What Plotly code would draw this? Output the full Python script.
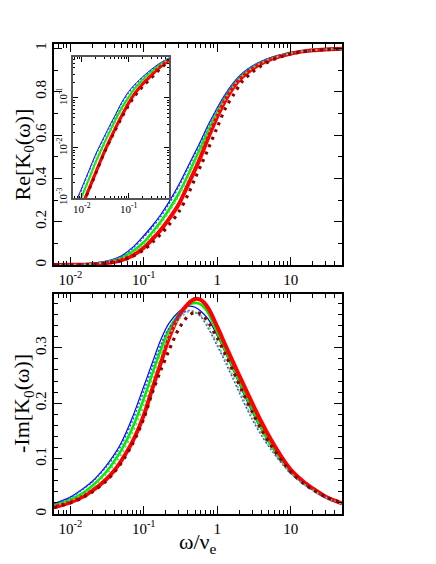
import math
import plotly.graph_objects as go

# ---------------- data ----------------
omega = [0.006, 0.01, 0.015, 0.02, 0.03, 0.04, 0.05, 0.07, 0.1, 0.13, 0.17, 0.22, 0.3, 0.4, 0.5,
         0.6, 0.75, 1.0, 1.3, 1.7, 2.2, 3.0, 4.0, 5.5, 7.5, 10, 15, 20, 30, 50]

re_blue = [0.0005, 0.0016, 0.004, 0.0077, 0.0168, 0.029, 0.043, 0.080, 0.135, 0.18, 0.232, 0.29, 0.37, 0.455, 0.52,
           0.575, 0.645, 0.725, 0.79, 0.845, 0.885, 0.918, 0.940, 0.958, 0.970, 0.979, 0.988, 0.992, 0.995, 0.998]
re_green = [0.00033, 0.00108, 0.0027, 0.0054, 0.0125, 0.022, 0.034, 0.062, 0.105, 0.15, 0.20, 0.255, 0.33, 0.415, 0.487,
            0.545, 0.618, 0.705, 0.775, 0.835, 0.877, 0.912, 0.935, 0.955, 0.968, 0.978, 0.987, 0.991, 0.995, 0.998]
re_red = [0.00021, 0.00068, 0.0017, 0.0033, 0.0083, 0.0148, 0.023, 0.043, 0.08, 0.118, 0.162, 0.212, 0.28, 0.37, 0.44,
          0.502, 0.585, 0.685, 0.762, 0.825, 0.868, 0.905, 0.93, 0.951, 0.965, 0.976, 0.986, 0.991, 0.995, 0.998]
re_blue_dot = [0.00048, 0.0015, 0.0038, 0.0073, 0.016, 0.0275, 0.041, 0.076, 0.128, 0.172, 0.224, 0.282, 0.362, 0.447, 0.513,
               0.568, 0.64, 0.722, 0.788, 0.843, 0.883, 0.917, 0.939, 0.957, 0.970, 0.979, 0.988, 0.992, 0.995, 0.998]
re_green_dot = [0.0003, 0.001, 0.0025, 0.005, 0.0115, 0.0205, 0.031, 0.057, 0.097, 0.14, 0.19, 0.245, 0.32, 0.405, 0.478,
                0.537, 0.61, 0.698, 0.77, 0.83, 0.873, 0.909, 0.933, 0.953, 0.967, 0.977, 0.987, 0.991, 0.995, 0.998]
re_maroon = [0.0002, 0.00065, 0.0016, 0.0031, 0.0078, 0.0138, 0.021, 0.039, 0.07, 0.103, 0.142, 0.185, 0.245, 0.325, 0.40,
             0.46, 0.535, 0.635, 0.725, 0.79, 0.848, 0.89, 0.92, 0.945, 0.962, 0.974, 0.985, 0.99, 0.994, 0.997]

im_blue = [0.0185, 0.0305, 0.046, 0.059, 0.085, 0.108, 0.130, 0.174, 0.230, 0.272, 0.314, 0.344, 0.365, 0.375, 0.373,
           0.366, 0.352, 0.322, 0.290, 0.256, 0.222, 0.184, 0.152, 0.121, 0.096, 0.076, 0.055, 0.044, 0.030, 0.019]
im_green = [0.0157, 0.026, 0.038, 0.051, 0.074, 0.096, 0.116, 0.155, 0.208, 0.252, 0.296, 0.333, 0.361, 0.377, 0.381,
            0.378, 0.363, 0.327, 0.294, 0.260, 0.227, 0.189, 0.155, 0.123, 0.097, 0.076, 0.056, 0.045, 0.031, 0.019]
im_red = [0.0122, 0.021, 0.0315, 0.042, 0.061, 0.079, 0.097, 0.13, 0.178, 0.225, 0.272, 0.317, 0.357, 0.379, 0.388,
          0.386, 0.372, 0.338, 0.304, 0.270, 0.238, 0.200, 0.166, 0.132, 0.103, 0.080, 0.058, 0.046, 0.031, 0.019]
im_blue_dot = [0.018, 0.0298, 0.045, 0.058, 0.083, 0.105, 0.126, 0.168, 0.222, 0.264, 0.305, 0.335, 0.357, 0.367, 0.364,
               0.356, 0.336, 0.304, 0.273, 0.240, 0.207, 0.171, 0.142, 0.115, 0.092, 0.073, 0.054, 0.043, 0.030, 0.019]
im_green_dot = [0.0148, 0.0245, 0.036, 0.048, 0.070, 0.090, 0.109, 0.146, 0.196, 0.242, 0.286, 0.322, 0.351, 0.365, 0.365,
                0.358, 0.340, 0.308, 0.277, 0.244, 0.211, 0.175, 0.145, 0.117, 0.093, 0.074, 0.054, 0.043, 0.030, 0.019]
im_maroon = [0.0118, 0.020, 0.030, 0.040, 0.058, 0.076, 0.093, 0.126, 0.172, 0.218, 0.259, 0.295, 0.334, 0.357, 0.364,
             0.361, 0.347, 0.318, 0.287, 0.254, 0.221, 0.184, 0.152, 0.122, 0.097, 0.076, 0.055, 0.044, 0.031, 0.020]

x_tickvals = [0.01, 0.1, 1, 10]
x_ticktext = ["10<sup>-2</sup>", "10<sup>-1</sup>", "1", "10"]
inset_x_tickvals = [0.01, 0.1]
inset_x_ticktext = ["10<sup>-2</sup>", "10<sup>-1</sup>"]
inset_y_tickvals = [0.001, 0.01, 0.1]
inset_y_ticktext = ["10<sup>-3</sup>", "10<sup>-2</sup>", "10<sup>-1</sup>"]

# ---------------- styles ----------------
FONT = "Liberation Serif"
styles = [
    ("blue", dict(color="#0000ff", width=1.2)),
    ("green", dict(color="#00ee00", width=2.6)),
    ("red", dict(color="#ff0000", width=4.0)),
    ("blue_dot", dict(color="#2a4bff", width=1.6, dash="2px,2px")),
    ("green_dot", dict(color="#5fd35f", width=2.0, dash="2px,3px")),
    ("maroon", dict(color="#8b0000", width=3.2, dash="3px,5px")),
]
re_data = {"blue": re_blue, "green": re_green, "red": re_red,
           "blue_dot": re_blue_dot, "green_dot": re_green_dot, "maroon": re_maroon}
im_data = {"blue": im_blue, "green": im_green, "red": im_red,
           "blue_dot": im_blue_dot, "green_dot": im_green_dot, "maroon": im_maroon}

fig = go.Figure()
for name, ln in styles:
    for xa, ya, ys in (("x", "y", re_data[name]), ("x2", "y2", im_data[name]), ("x3", "y3", re_data[name])):
        l = dict(ln)
        if xa == "x3":
            l["width"] = max(1.0, ln["width"] * 0.8)
        l["shape"] = "spline"
        l["smoothing"] = 0.9
        fig.add_trace(go.Scatter(x=omega, y=ys, mode="lines", line=l, xaxis=xa, yaxis=ya,
                                 showlegend=False, hoverinfo="skip"))

def minor_log(lo, hi):
    vals = []
    d = 1e-4
    while d < 1e3:
        for m in range(2, 10):
            v = m * d
            if lo <= v <= hi:
                vals.append(v)
        d *= 10
    return vals

# page offset of the figure inside the browser page (default body margin)
OFF = 8
W, H = 420, 548
# plot area in page pixels: x 54..342, y 44..514
L, T = 54 - OFF, 44 - OFF
R = W - (342 - OFF)
B = H - (514 - OFF)
ph = H - T - B
pw = W - L - R

def py(pix):
    return (H - B - (pix - OFF)) / ph

def px(pix):
    return ((pix - OFF) - L) / pw

axis_common = dict(showline=True, linecolor="black", linewidth=1.5, mirror="ticks",
                   ticks="inside", tickcolor="black", tickwidth=1.2, ticklen=8,
                   showgrid=False, zeroline=False,
                   tickfont=dict(family=FONT, size=15, color="black"))

xrange_main = [math.log10(0.006), math.log10(50)]
xaxis_main = dict(axis_common, type="log", range=xrange_main, tickvals=x_tickvals, ticktext=x_ticktext,
                  minor=dict(ticks="inside", ticklen=4, tickcolor="black", tickwidth=1,
                             tickvals=minor_log(0.006, 50), showgrid=False))

fig.update_layout(
    width=W, height=H,
    margin=dict(l=L, r=R, t=T, b=B),
    paper_bgcolor="white", plot_bgcolor="white",
    showlegend=False,
    xaxis=dict(xaxis_main, anchor="y", domain=[0, 1]),
    yaxis=dict(axis_common, anchor="x", domain=[py(265), 1], range=[0, 1.02],
               tickvals=[0, 0.2, 0.4, 0.6, 0.8, 1], ticktext=["0", "0.2", "0.4", "0.6", "0.8", "1"],
               tickangle=-90,
               minor=dict(ticks="inside", ticklen=4, tickcolor="black", tickwidth=1, dtick=0.1, showgrid=False)),
    xaxis2=dict(xaxis_main, anchor="y2", domain=[0, 1]),
    yaxis2=dict(axis_common, anchor="x2", domain=[0, py(294)], range=[0, 0.397],
                tickvals=[0, 0.1, 0.2, 0.3], ticktext=["0", "0.1", "0.2", "0.3"],
                tickangle=-90,
                minor=dict(ticks="inside", ticklen=4, tickcolor="black", tickwidth=1, dtick=0.02, showgrid=False)),
    xaxis3=dict(axis_common, type="log", anchor="y3", domain=[px(73), px(169)],
                range=[math.log10(0.0065), math.log10(0.72)],
                tickvals=inset_x_tickvals, ticktext=inset_x_ticktext, ticklen=5,
                linecolor="#555555", linewidth=1.5,
                tickfont=dict(family=FONT, size=11, color="black"),
                minor=dict(ticks="inside", ticklen=2.5, tickcolor="black", tickwidth=1,
                           tickvals=minor_log(0.0065, 0.72), showgrid=False)),
    yaxis3=dict(axis_common, type="log", anchor="x3", domain=[py(198), py(57)],
                range=[-3, math.log10(0.66)],
                tickvals=inset_y_tickvals, ticktext=inset_y_ticktext, ticklen=5, tickangle=-90,
                linecolor="#555555", linewidth=1.5,
                tickfont=dict(family=FONT, size=11, color="black"),
                minor=dict(ticks="inside", ticklen=2.5, tickcolor="black", tickwidth=1,
                           tickvals=minor_log(0.001, 0.66), showgrid=False)),
    annotations=[
        dict(text="Re[K<sub>0</sub>(ω)]", xref="paper", yref="paper", x=px(23), y=py(154.5),
             textangle=-90, showarrow=False, xanchor="center", yanchor="middle",
             font=dict(family=FONT, size=22, color="black")),
        dict(text="-Im[K<sub>0</sub>(ω)]", xref="paper", yref="paper", x=px(23), y=py(404),
             textangle=-90, showarrow=False, xanchor="center", yanchor="middle",
             font=dict(family=FONT, size=22, color="black")),
        dict(text="ω/ν<sub>e</sub>", xref="paper", yref="paper", x=px(198), y=py(543),
             showarrow=False, xanchor="center", yanchor="middle",
             font=dict(family=FONT, size=22, color="black")),
    ],
)

fig.write_html("out.html")
